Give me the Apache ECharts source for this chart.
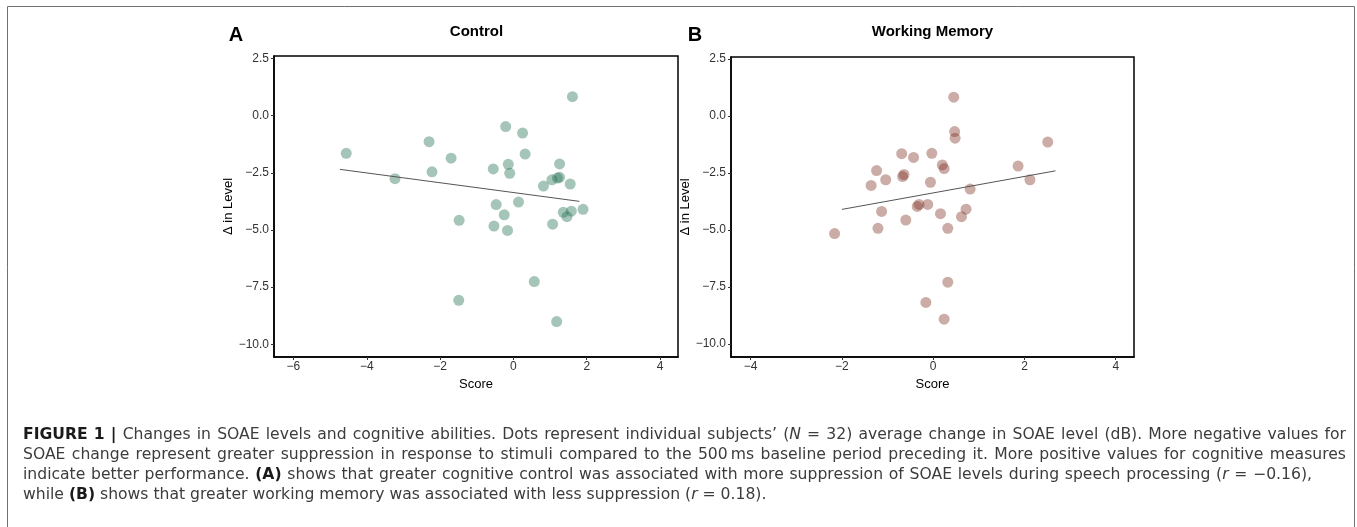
<!DOCTYPE html>
<html><head><meta charset="utf-8">
<script src="https://cdn.jsdelivr.net/npm/echarts@6/dist/echarts.min.js"></script>
<style>html,body{margin:0;padding:0;background:#fff}#c{width:1357px;height:527px}</style>
</head><body><div id="c"></div>
<script>
// ---- data ----
const controlX = [-4.56,-3.23,-2.30,-2.22,-1.70,-1.48,-0.55,-0.47,-0.53,-0.25,-0.21,-0.16,-0.14,-0.10,0.14,0.25,0.32,0.82,1.05,1.07,1.20,1.26,1.26,1.36,1.46,1.55,1.58,1.61,1.90,-1.49,0.57,1.18];
const controlY = [-1.65,-2.76,-1.14,-2.46,-1.86,-4.58,-2.33,-3.89,-4.83,-4.34,-0.48,-5.02,-2.13,-2.52,-3.78,-0.76,-1.68,-3.08,-2.81,-4.75,-2.73,-2.70,-2.11,-4.23,-4.42,-2.99,-4.18,0.83,-4.10,-8.08,-7.26,-9.01];
const memoryX = [-2.16,-1.36,-1.24,-1.21,-1.13,-1.04,-0.69,-0.67,-0.64,-0.60,-0.43,-0.35,-0.31,-0.12,-0.06,-0.03,0.16,0.20,0.24,0.32,0.45,0.47,0.48,0.62,0.72,0.81,1.86,2.12,2.51,-0.16,0.24,0.32];
const memoryY = [-5.16,-3.05,-2.40,-4.93,-4.19,-2.80,-1.66,-2.66,-2.57,-4.57,-1.82,-3.97,-3.88,-3.88,-2.91,-1.64,-4.29,-2.15,-2.31,-4.93,0.82,-0.69,-0.98,-4.42,-4.09,-3.21,-2.20,-2.80,-1.15,-8.18,-8.91,-7.29];
const controlFitX = [-4.73, 1.80];
const controlFitY = [-2.35, -3.75];
const memoryFitX = [-2.00, 2.68];
const memoryFitY = [-4.10, -2.41];
const xTicksControl = [-6,-4,-2,0,2,4];
const xTicksMemory = [-4,-2,0,2,4];
const yTicks = [-10,-7.5,-5,-2.5,0,2.5];
const panelTitles = ['Control','Working Memory'];
const panelLetters = ['A','B'];
const xName = 'Score';
const yName = '\u0394 in Level';
const captionLines = [
  "**FIGURE** **1** **|** Changes in SOAE levels and cognitive abilities. Dots represent individual subjects\u2019 (_N_ = 32) average change in SOAE level (dB). More negative values for",
  "SOAE change represent greater suppression in response to stimuli compared to the 500\u2009ms baseline period preceding it. More positive values for cognitive measures",
  "indicate better performance. **(A)** shows that greater cognitive control was associated with more suppression of SOAE levels during speech processing (_r_ = \u22120.16),",
  "while **(B)** shows that greater working memory was associated with less suppression (_r_ = 0.18)."
];

// ---- helpers ----
const FONT = 'Liberation Sans, Arial, sans-serif';
function fmtX(v){ return (v < 0 ? '\u2212' : '') + Math.abs(v); }
function fmtY(v){ return (v < 0 ? '\u2212' : '') + Math.abs(v).toFixed(1); }

function makeAxisX(idx, min, max, ticks){
  return {
    gridIndex: idx, type: 'value', min: min, max: max,
    axisLine: {show: true, onZero: false, lineStyle: {color: '#000', width: 1.5}},
    axisTick: {show: true, customValues: ticks, length: 3, lineStyle: {color: '#333', width: 1}},
    axisLabel: {customValues: ticks, formatter: fmtX, margin: 4, color: '#333', fontSize: 12, fontFamily: FONT},
    splitLine: {show: false},
    name: xName, nameLocation: 'middle', nameGap: 13,
    nameTextStyle: {color: '#000', fontSize: 13, fontFamily: FONT}
  };
}
function makeAxisY(idx, min, max){
  return {
    gridIndex: idx, type: 'value', min: min, max: max,
    axisLine: {show: true, onZero: false, lineStyle: {color: '#000', width: 1.5}},
    axisTick: {show: true, customValues: yTicks, length: 3, lineStyle: {color: '#333', width: 1}},
    axisLabel: {customValues: yTicks, formatter: fmtY, margin: 5, color: '#333', fontSize: 12, fontFamily: FONT},
    splitLine: {show: false},
    name: yName, nameLocation: 'middle', nameGap: 35,
    nameTextStyle: {color: '#000', fontSize: 13, fontFamily: FONT}
  };
}
function pairs(xs, ys){ return xs.map((x, i) => [x, ys[i]]); }

// ---- caption layout (justified) ----
const CAP_FAMILY = 'DejaVu Sans';
const capLeft = 23, capTop = 434.5, capStep = 20;
const capRights = [1346, 1346, 1312, null]; // right edge of each line; null = natural spacing
const mctx = document.createElement('canvas').getContext('2d');
function fontStr(seg, size){
  return (seg.i ? 'italic ' : 'normal ') + (seg.b ? 'bold ' : 'normal ') + size + 'px ' + CAP_FAMILY;
}
function measure(seg, size){ mctx.font = fontStr(seg, size); return mctx.measureText(seg.t).width; }
function parseWord(w){
  const segs = []; const re = /\*\*(.+?)\*\*|_(.+?)_|([^*_]+)/g; let m;
  while ((m = re.exec(w))) {
    if (m[1] !== undefined) segs.push({t: m[1], b: true});
    else if (m[2] !== undefined) segs.push({t: m[2], i: true});
    else segs.push({t: m[3]});
  }
  return segs;
}
const parsed = captionLines.map(l => l.split(' ').map(parseWord));
function lineWidth(words, size){
  const sp = measure({t: ' '}, size);
  let w = 0; words.forEach(wd => wd.forEach(s => w += measure(s, size)));
  return w + sp * (words.length - 1);
}
let capSize = 15 * (1346 - capLeft - 30) / Math.max(lineWidth(parsed[0], 15), lineWidth(parsed[1], 15));
capSize = Math.max(13, Math.min(16, capSize));
const captionGraphics = [];
parsed.forEach((words, li) => {
  const widths = words.map(wd => wd.reduce((a, s) => a + measure(s, capSize), 0));
  const total = widths.reduce((a, b) => a + b, 0);
  const right = capRights[li];
  const gap = right === null ? measure({t: ' '}, capSize) : (right - capLeft - total) / (words.length - 1);
  let x = capLeft;
  const y = capTop + li * capStep;
  words.forEach((wd, wi) => {
    let sx = x;
    wd.forEach(s => {
      captionGraphics.push({
        type: 'text', x: sx, y: y, silent: true,
        style: {text: s.t, fontSize: capSize, fontFamily: CAP_FAMILY,
                fontWeight: s.b ? 'bold' : 'normal', fontStyle: s.i ? 'italic' : 'normal',
                fill: s.b ? '#1a1a1a' : '#3c3c3c', align: 'left', verticalAlign: 'middle'}
      });
      sx += measure(s, capSize);
    });
    x += widths[wi] + gap;
  });
});

const labelGraphics = [
  {type: 'text', x: 236, y: 35, silent: true, style: {text: panelLetters[0], fontSize: 20, fontWeight: 'bold', fontFamily: FONT, fill: '#000', align: 'center', verticalAlign: 'middle'}},
  {type: 'text', x: 695, y: 35, silent: true, style: {text: panelLetters[1], fontSize: 20, fontWeight: 'bold', fontFamily: FONT, fill: '#000', align: 'center', verticalAlign: 'middle'}},
  {type: 'text', x: 476.5, y: 31.5, silent: true, style: {text: panelTitles[0], fontSize: 15, fontWeight: 'bold', fontFamily: FONT, fill: '#000', align: 'center', verticalAlign: 'middle'}},
  {type: 'text', x: 932.5, y: 31.5, silent: true, style: {text: panelTitles[1], fontSize: 15, fontWeight: 'bold', fontFamily: FONT, fill: '#000', align: 'center', verticalAlign: 'middle'}},
  {type: 'rect', silent: true, shape: {x: 7.5, y: 6.5, width: 1347, height: 560}, style: {fill: 'none', stroke: '#707070', lineWidth: 1}}
];

const chart = echarts.init(document.getElementById('c'), null, {renderer: 'canvas'});
chart.setOption({
  animation: false,
  backgroundColor: '#fff',
  grid: [
    {left: 274, top: 56, width: 404, height: 301, show: true, borderColor: '#000', borderWidth: 1.5, backgroundColor: 'transparent'},
    {left: 731, top: 57, width: 403, height: 300, show: true, borderColor: '#000', borderWidth: 1.5, backgroundColor: 'transparent'}
  ],
  xAxis: [makeAxisX(0, -6.53, 4.49, xTicksControl), makeAxisX(1, -4.43, 4.40, xTicksMemory)],
  yAxis: [makeAxisY(0, -10.56, 2.61), makeAxisY(1, -10.57, 2.58)],
  series: [
    {type: 'scatter', xAxisIndex: 0, yAxisIndex: 0, data: pairs(controlX, controlY), symbolSize: 11,
     itemStyle: {color: 'rgba(30,110,80,0.5)'}, emphasis: {disabled: true}, z: 2},
    {type: 'line', xAxisIndex: 0, yAxisIndex: 0, data: pairs(controlFitX, controlFitY), symbol: 'none',
     lineStyle: {color: '#555', width: 1}, z: 3},
    {type: 'scatter', xAxisIndex: 1, yAxisIndex: 1, data: pairs(memoryX, memoryY), symbolSize: 11,
     itemStyle: {color: 'rgba(120,40,25,0.48)'}, emphasis: {disabled: true}, z: 2},
    {type: 'line', xAxisIndex: 1, yAxisIndex: 1, data: pairs(memoryFitX, memoryFitY), symbol: 'none',
     lineStyle: {color: '#555', width: 1}, z: 3}
  ],
  graphic: {elements: labelGraphics.concat(captionGraphics)}
});
</script></body></html>
